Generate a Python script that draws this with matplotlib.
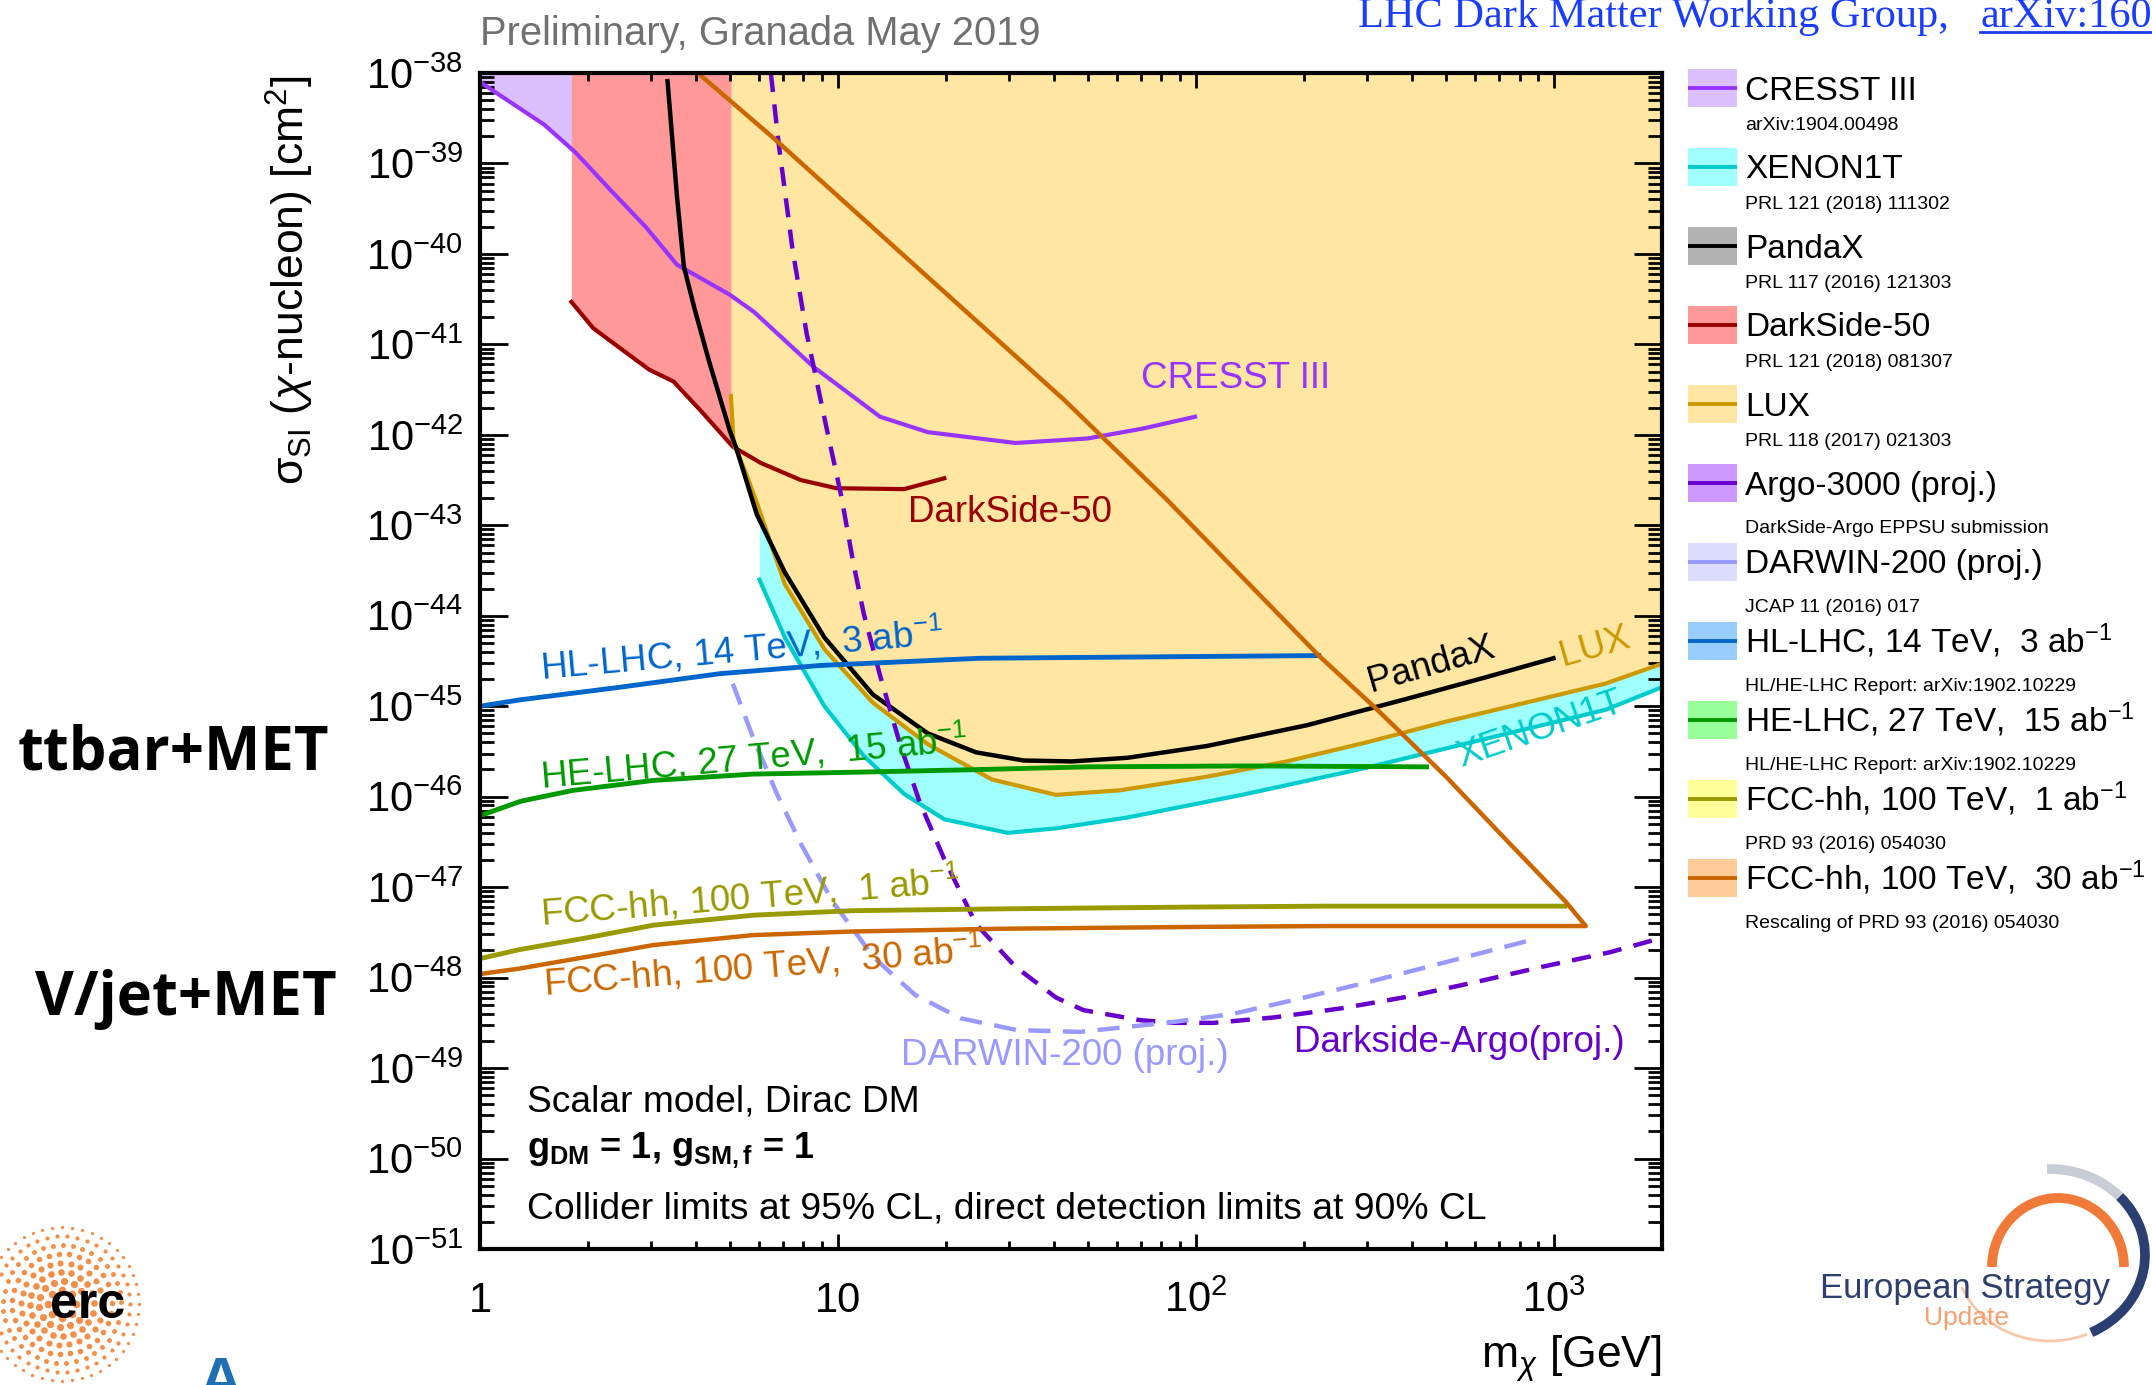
import numpy as np
import matplotlib
matplotlib.use("Agg")
import matplotlib.pyplot as plt
import matplotlib.transforms as mtransforms
from matplotlib.ticker import LogLocator, NullFormatter
from matplotlib.patches import Rectangle, Arc

# ── data: mass in GeV, cross-section as log10(sigma / cm^2) ──────────────────
cresst_mass = [1.0, 1.51, 1.85, 2.31, 2.90, 3.55, 4.98, 5.82, 8.55, 13.1, 17.8, 31.3, 49.8, 71.1, 99.3]
cresst_sig  = [-38.10, -38.57, -38.88, -39.29, -39.70, -40.12, -40.45, -40.64, -41.25, -41.80, -41.97, -42.09, -42.04, -41.93, -41.80]

ds_mass = [1.80, 2.07, 2.42, 2.97, 3.47, 4.15, 5.08, 6.08, 7.87, 9.89, 15.3, 19.8]
ds_sig  = [-40.53, -40.82, -41.02, -41.28, -41.41, -41.74, -42.13, -42.31, -42.50, -42.59, -42.60, -42.48]

pandax_mass = [3.34, 3.55, 3.71, 3.97, 4.35, 4.98, 5.21, 5.93, 7.10, 9.16, 12.5, 17.8, 24.3, 33.0, 44.9, 64.3, 107, 204, 386, 644, 995]
pandax_sig  = [-38.09, -39.37, -40.14, -40.60, -41.17, -41.95, -42.16, -42.88, -43.52, -44.24, -44.87, -45.30, -45.51, -45.60, -45.61, -45.57, -45.44, -45.21, -44.92, -44.68, -44.47]

lux_mass = [5.02, 5.11, 5.50, 5.93, 7.10, 9.16, 12.5, 17.8, 26.9, 40.6, 61.1, 107, 179, 299, 499, 834, 1390, 2000]
lux_sig  = [-41.57, -42.10, -42.40, -42.75, -43.65, -44.37, -44.96, -45.42, -45.81, -45.98, -45.93, -45.78, -45.61, -45.40, -45.17, -44.96, -44.75, -44.53]

xenon_mass = [6.03, 7.10, 9.16, 11.8, 15.3, 19.8, 29.8, 40.6, 64.3, 138, 299, 644, 1390, 2000]
xenon_sig  = [-43.60, -44.24, -45.00, -45.55, -45.97, -46.25, -46.40, -46.35, -46.23, -45.97, -45.68, -45.36, -45.04, -44.79]

argo_mass = [6.49, 6.82, 7.46, 8.17, 9.35, 10.2, 11.0, 11.8, 13.1, 14.9, 16.9, 19.8, 24.3, 31.3, 40.6, 48.5, 69.7, 86.5, 112, 165, 254, 391, 603, 927, 1430, 2000]
argo_sig  = [-38.00, -38.77, -39.95, -40.88, -41.98, -42.67, -43.39, -43.98, -44.66, -45.42, -46.06, -46.69, -47.41, -47.88, -48.22, -48.36, -48.47, -48.50, -48.50, -48.44, -48.34, -48.21, -48.05, -47.88, -47.72, -47.56]

darwin_mass = [5.08, 5.78, 6.75, 7.87, 9.66, 12.6, 16.4, 22.0, 31.6, 47.4, 69.7, 86.5, 127, 196, 302, 465, 851]
darwin_sig  = [-44.75, -45.34, -45.97, -46.52, -47.16, -47.78, -48.19, -48.45, -48.58, -48.60, -48.53, -48.49, -48.40, -48.23, -48.05, -47.86, -47.59]

hl_mass = [1.0, 1.29, 2.46, 4.68, 8.89, 24.8, 49.8, 220]
hl_sig  = [-45.00, -44.93, -44.79, -44.64, -44.55, -44.47, -44.46, -44.44]

he_mass = [1.0, 1.30, 1.82, 3.05, 5.79, 11.0, 24.8, 49.8, 139, 440]
he_sig  = [-46.21, -46.05, -45.93, -45.82, -45.75, -45.73, -45.70, -45.67, -45.66, -45.67]

fcc1_mass = [1.0, 1.29, 1.99, 3.05, 5.79, 11.0, 28.3, 98, 231, 1070]
fcc1_sig  = [-47.79, -47.69, -47.56, -47.42, -47.31, -47.26, -47.24, -47.22, -47.21, -47.21]

# 30/ab curve plus its rescaled upper edge back to the top of the plot
fcc30_mass = [1.0, 1.29, 1.99, 3.05, 5.79, 11.0, 28.3, 98, 231, 1225,
              1076, 752, 499, 315, 220, 139, 83.0, 42.7, 16.1, 6.52, 4.06]
fcc30_sig  = [-47.96, -47.90, -47.77, -47.64, -47.53, -47.49, -47.46, -47.44, -47.43, -47.43,
              -47.16, -46.52, -45.78, -45.01, -44.44, -43.63, -42.72, -41.61, -40.10, -38.70, -38.00]

x_ticks = [1, 10, 100, 1000]
x_tick_labels = ["1", "10", "$10^{2}$", "$10^{3}$"]

leg_names = ["CRESST III", "XENON1T", "PandaX", "DarkSide-50", "LUX",
             "Argo-3000 (proj.)", "DARWIN-200 (proj.)",
             "HL-LHC, 14 TeV,  3 ab$^{-1}$", "HE-LHC, 27 TeV,  15 ab$^{-1}$",
             "FCC-hh, 100 TeV,  1 ab$^{-1}$", "FCC-hh, 100 TeV,  30 ab$^{-1}$"]
leg_refs = ["arXiv:1904.00498", "PRL 121 (2018) 111302", "PRL 117 (2016) 121303",
            "PRL 121 (2018) 081307", "PRL 118 (2017) 021303", "DarkSide-Argo EPPSU submission",
            "JCAP 11 (2016) 017", "HL/HE-LHC Report: arXiv:1902.10229",
            "HL/HE-LHC Report: arXiv:1902.10229", "PRD 93 (2016) 054030",
            "Rescaling of PRD 93 (2016) 054030"]
leg_line = ["#9933ff", "#00cccc", "#000000", "#990000", "#cc9900", "#6600cc",
            "#9999ff", "#0066cc", "#009900", "#999900", "#cc6600"]
leg_fill = ["#dcbfff", "#a0ffff", "#b3b3b3", "#ff9999", "#ffe6a3", "#cc99ff",
            "#ddddff", "#99ccff", "#99ff99", "#ffff99", "#ffcc99"]

# ── style ─────────────────────────────────────────────────────────────────────
plt.rcParams["font.family"] = ["Liberation Sans", "DejaVu Sans"]
plt.rcParams["mathtext.fontset"] = "custom"
plt.rcParams["mathtext.rm"] = "Liberation Sans"
plt.rcParams["mathtext.it"] = "Liberation Sans:italic"
plt.rcParams["mathtext.bf"] = "Liberation Sans:bold"

W, H = 2152, 1385
fig = plt.figure(figsize=(W / 100, H / 100), dpi=100)
ax = fig.add_axes([480 / W, 1 - 1249 / H, 1182 / W, 1176 / H])


def sig(v):
    return 10.0 ** np.asarray(v)


TOP = 1e-38

# ── filled excluded regions ───────────────────────────────────────────────────
ax.fill_between(cresst_mass, sig(cresst_sig), TOP, color="#dcbfff", lw=0, zorder=1.0)
ax.fill_between(ds_mass, sig(ds_sig), TOP, color="#ff9999", lw=0, zorder=1.1)
ax.fill_between(xenon_mass, sig(xenon_sig), TOP, color="#a0ffff", lw=0, zorder=1.2)
ax.fill_between(lux_mass, sig(lux_sig), TOP, color="#ffe6a3", lw=0, zorder=1.3)

# ── direct detection lines ────────────────────────────────────────────────────
ax.plot(cresst_mass, sig(cresst_sig), color="#9933ff", lw=3, zorder=3)
ax.plot(ds_mass, sig(ds_sig), color="#990000", lw=3, zorder=3)
ax.plot(xenon_mass, sig(xenon_sig), color="#00cccc", lw=3, zorder=3)
ax.plot(lux_mass, sig(lux_sig), color="#cc9900", lw=3, zorder=3)
ax.plot(pandax_mass, sig(pandax_sig), color="black", lw=3.2, zorder=3.1)
ax.plot(argo_mass, sig(argo_sig), color="#6600cc", lw=3.2, zorder=3.2, dashes=(4.3, 2.8))
ax.plot(darwin_mass, sig(darwin_sig), color="#9999ff", lw=3.2, zorder=3.2, dashes=(5.0, 2.8))

# ── collider lines ────────────────────────────────────────────────────────────
ax.plot(hl_mass, sig(hl_sig), color="#0066cc", lw=3.5, zorder=4)
ax.plot(he_mass, sig(he_sig), color="#009900", lw=3.5, zorder=4)
ax.plot(fcc1_mass, sig(fcc1_sig), color="#999900", lw=3.5, zorder=4)
ax.plot(fcc30_mass, sig(fcc30_sig), color="#cc6600", lw=3.2, zorder=4)

# ── axes ──────────────────────────────────────────────────────────────────────
ax.set_xscale("log")
ax.set_yscale("log")
ax.set_xlim(1, 2000)
ax.set_ylim(1e-51, 1e-38)
ax.yaxis.set_major_locator(LogLocator(base=10, numticks=30))
ax.yaxis.set_minor_locator(LogLocator(base=10, subs=np.arange(2, 10), numticks=300))
ax.yaxis.set_minor_formatter(NullFormatter())
ax.xaxis.set_major_locator(LogLocator(base=10, numticks=10))
ax.xaxis.set_minor_locator(LogLocator(base=10, subs=np.arange(2, 10), numticks=100))
ax.xaxis.set_minor_formatter(NullFormatter())
for s in ax.spines.values():
    s.set_linewidth(3)
    s.set_zorder(5)
ax.tick_params(axis="y", which="major", direction="in", length=20, width=2, right=True,
               labelsize=30, pad=12)
ax.tick_params(axis="y", which="minor", direction="in", length=10, width=2, right=True)
ax.tick_params(axis="x", which="major", direction="in", length=11, width=2, top=True,
               labelbottom=False)
ax.tick_params(axis="x", which="minor", direction="in", length=5.5, width=2, top=True)

xtrans = mtransforms.blended_transform_factory(ax.transData, ax.transAxes)
for v, lab in zip(x_ticks, x_tick_labels):
    ax.text(v, -0.0533, lab, transform=xtrans, ha="center", va="baseline", fontsize=30,
            clip_on=False)

fig.text(1662 / W, 1 - 1368 / H, r"m$_{\chi}$ [GeV]", ha="right", va="baseline", fontsize=32)
fig.text(290 / W, 1 - 75 / H, r"$\mathrm{\sigma_{SI}}$ ($\chi$-nucleon) [cm$^{2}$]",
         rotation=90, ha="center", va="top", fontsize=32)

# ── labels inside the plot ────────────────────────────────────────────────────
fs = 26.5
lab_kw = dict(ha="left", va="baseline", rotation_mode="anchor", zorder=6, fontsize=fs)
ax.text(1.486, sig(-44.71), "HL-LHC, 14 TeV,  3 ab$^{-1}$", color="#0066cc", rotation=5, **lab_kw)
ax.text(1.486, sig(-45.91), "HE-LHC, 27 TeV,  15 ab$^{-1}$", color="#009900", rotation=5, **lab_kw)
ax.text(1.486, sig(-47.42), "FCC-hh, 100 TeV,  1 ab$^{-1}$", color="#999900", rotation=4.5, **lab_kw)
ax.text(1.518, sig(-48.20), "FCC-hh, 100 TeV,  30 ab$^{-1}$", color="#cc6600", rotation=4.5, **lab_kw)
ax.text(308, sig(-44.84), "PandaX", color="black", rotation=16, **lab_kw)
ax.text(1057, sig(-44.55), "LUX", color="#cc9900", rotation=16, **lab_kw)
ax.text(549, sig(-45.67), "XENON1T", color="#00cccc", rotation=19, **lab_kw)
ax.text(70.2, sig(-41.48), "CRESST III", color="#9933ff", **lab_kw)
ax.text(15.7, sig(-42.96), "DarkSide-50", color="#990000", **lab_kw)
ax.text(15.0, sig(-48.97), "DARWIN-200 (proj.)", color="#9999ff", **lab_kw)
ax.text(188, sig(-48.82), "Darkside-Argo(proj.)", color="#6600cc", **lab_kw)

ax.text(0.0396, 0.1168, "Scalar model, Dirac DM", transform=ax.transAxes, fontsize=26.7, va="baseline")
ax.text(0.0396, 0.0771, r"g$_{\mathbf{DM}}$ = 1, g$_{\mathbf{SM,f}}$ = 1", transform=ax.transAxes,
        fontsize=26, fontweight="bold", va="baseline")
ax.text(0.0396, 0.0261, "Collider limits at 95% CL, direct detection limits at 90% CL",
        transform=ax.transAxes, fontsize=26.8, va="baseline")

# ── texts around the frame ────────────────────────────────────────────────────
fig.text(480 / W, 1 - 45 / H, "Preliminary, Granada May 2019", color="#707070", fontsize=28.7,
         va="baseline")
fig.text(1358 / W, 1 - 27 / H, "LHC Dark Matter Working Group,", color="#1a3cff", fontsize=30.5,
         family="Liberation Serif", ha="left", va="baseline")
fig.text(1980 / W, 1 - 27 / H, "arXiv:1603.04156", color="#1a3cff", fontsize=30.5,
         family="Liberation Serif", ha="left", va="baseline")
fig.text(18 / W, 1 - 770 / H, "ttbar+MET", fontsize=43, fontweight="bold", family="Open Sans",
         va="baseline")
fig.text(35 / W, 1 - 1015 / H, "V/jet+MET", fontsize=43, fontweight="bold", family="Open Sans",
         va="baseline")

# ── legend and logos, drawn in pixel coordinates (y grows downwards) ──────────
deco = fig.add_axes([0, 0, 1, 1])
deco.set_xlim(0, W)
deco.set_ylim(H, 0)
deco.axis("off")
deco.patch.set_visible(False)

deco.plot([1980, 2152], [32, 32], color="#1a3cff", lw=2)

for i, (name, ref, lc, fc) in enumerate(zip(leg_names, leg_refs, leg_line, leg_fill)):
    cy = 88 + 79 * i
    deco.add_patch(Rectangle((1688, cy - 19), 49, 38, facecolor=fc, edgecolor="none"))
    deco.plot([1688, 1737], [cy, cy], color=lc, lw=2.8, solid_capstyle="butt")
    deco.text(1745, cy + 11.5, name, fontsize=24, va="baseline")
    deco.text(1745, cy + 42 + (8 if i >= 5 else 0), ref, fontsize=14, va="baseline")

# European Strategy Update logo (angles are mirrored because y is flipped)
deco.add_patch(Arc((2058, 1267), 132, 138, theta1=180, theta2=360, color="#f07a3a", lw=7))
deco.add_patch(Arc((2050, 1255), 190, 172, theta1=-92, theta2=-40, color="#c9cdd8", lw=7))
deco.add_patch(Arc((2050, 1255), 190, 172, theta1=-40, theta2=62, color="#2b4070", lw=7))
deco.add_patch(Arc((2050, 1255), 190, 172, theta1=65, theta2=160, color="#f8c8aa", lw=2))
deco.text(1820, 1298, "European Strategy", color="#2e3f6e", fontsize=25, va="baseline")
deco.text(1924, 1325, "Update", color="#f4a070", fontsize=19, va="baseline")

# erc logo
for k, r in enumerate(np.arange(14, 80, 9)):
    n = int(2 * np.pi * r / 10)
    a = np.linspace(0, 2 * np.pi, n, endpoint=False) + 0.3 * k
    deco.scatter(62 + r * np.cos(a), 1304 + r * np.sin(a), s=max(30 - 3.5 * k, 4),
                 color="#f07b2a", alpha=0.85, lw=0)
deco.text(88, 1318, "erc", fontsize=36, fontweight="bold", ha="center", va="baseline")
deco.text(198, 1400, "A", fontsize=44, fontweight="bold", color="#1f6fb5", va="baseline")

fig.savefig("out.png", dpi=100)
